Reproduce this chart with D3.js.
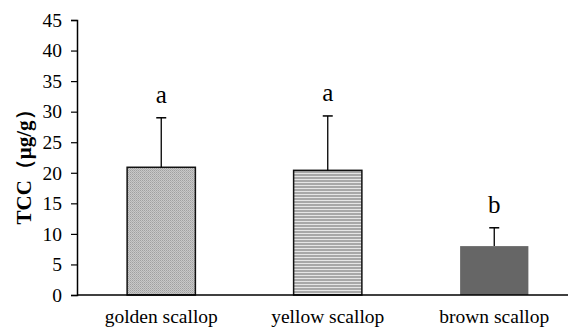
<!DOCTYPE html>
<html>
<head>
<meta charset="utf-8">
<script src="https://cdn.jsdelivr.net/npm/d3@7/dist/d3.min.js"></script>
<style>
  body { margin: 0; background: #fff; }
  text { font-family: "Liberation Serif", "Times New Roman", serif; }
</style>
</head>
<body>
<script>
// data
const categories = ["golden scallop", "yellow scallop", "brown scallop"];
const means = [20.9, 20.4, 8.0];
const errors = [8.1, 8.9, 3.0];
const letters = ["a", "a", "b"];
const yTicks = [0, 5, 10, 15, 20, 25, 30, 35, 40, 45];

const width = 568, height = 327;
const margin = { left: 77, top: 20, bottom: 32 };

const svg = d3.select("body").append("svg")
  .attr("width", width)
  .attr("height", height);

const defs = svg.append("defs");

// fine crosshatch for first bar
const p1 = defs.append("pattern")
  .attr("id", "hatch1")
  .attr("patternUnits", "userSpaceOnUse")
  .attr("width", 2).attr("height", 2);
p1.append("rect").attr("width", 2).attr("height", 2).attr("fill", "#c8c8c8");
p1.append("rect").attr("width", 1).attr("height", 1).attr("fill", "#a0a0a0");
p1.append("rect").attr("x", 1).attr("y", 1).attr("width", 1).attr("height", 1).attr("fill", "#b0b0b0");

// horizontal lines for second bar
const p2 = defs.append("pattern")
  .attr("id", "hatch2")
  .attr("patternUnits", "userSpaceOnUse")
  .attr("width", 4).attr("height", 3);
p2.append("rect").attr("width", 4).attr("height", 3).attr("fill", "#e6e6e6");
p2.append("rect").attr("width", 4).attr("height", 2).attr("fill", "#a8a8a8");

const fills = ["url(#hatch1)", "url(#hatch2)", "#666666"];
const strokes = ["#111", "#111", "none"];

const y = d3.scaleLinear()
  .domain([0, 45])
  .range([height - margin.bottom, margin.top]);

const x = d3.scaleBand()
  .domain(categories)
  .range([78, 577.5])
  .paddingInner(0.59)
  .paddingOuter(0.295);

// y axis
const yAxis = d3.axisLeft(y).tickValues(yTicks).tickSize(6).tickPadding(9);
const gy = svg.append("g")
  .attr("transform", "translate(" + margin.left + ",0)")
  .call(yAxis);
gy.select(".domain").attr("stroke", "#000").attr("stroke-width", 1.5);
gy.selectAll(".tick line").attr("stroke", "#000").attr("stroke-width", 1.2);
gy.selectAll(".tick text")
  .attr("font-size", 19.5)
  .attr("fill", "#000")
  .style("font-family", "Liberation Serif, serif");

// bars
const chart = svg.append("g");
chart.selectAll("rect.bar")
  .data(categories)
  .enter()
  .append("rect")
  .attr("class", "bar")
  .attr("x", d => x(d))
  .attr("width", x.bandwidth())
  .attr("y", (d, i) => y(means[i]))
  .attr("height", (d, i) => y(0) - y(means[i]))
  .attr("fill", (d, i) => fills[i])
  .attr("stroke", (d, i) => strokes[i])
  .attr("stroke-width", 1.5);

// error bars (upper only)
const capW = 10;
const err = chart.selectAll("g.err")
  .data(categories)
  .enter()
  .append("g")
  .attr("class", "err");
err.append("line")
  .attr("x1", d => x(d) + x.bandwidth() / 2)
  .attr("x2", d => x(d) + x.bandwidth() / 2)
  .attr("y1", (d, i) => y(means[i]))
  .attr("y2", (d, i) => y(means[i] + errors[i]))
  .attr("stroke", "#000")
  .attr("stroke-width", 1.3);
err.append("line")
  .attr("x1", d => x(d) + x.bandwidth() / 2 - capW / 2)
  .attr("x2", d => x(d) + x.bandwidth() / 2 + capW / 2)
  .attr("y1", (d, i) => y(means[i] + errors[i]))
  .attr("y2", (d, i) => y(means[i] + errors[i]))
  .attr("stroke", "#000")
  .attr("stroke-width", 1.5);

// significance letters
chart.selectAll("text.letter")
  .data(categories)
  .enter()
  .append("text")
  .attr("class", "letter")
  .attr("x", d => x(d) + x.bandwidth() / 2)
  .attr("y", (d, i) => y(means[i] + errors[i]) - 14.5)
  .attr("text-anchor", "middle")
  .attr("font-size", 25)
  .text((d, i) => letters[i]);

// x axis line
const xAxis = d3.axisBottom(x).tickSize(0).tickPadding(14);
const gx = svg.append("g")
  .attr("transform", "translate(0," + y(0) + ")")
  .call(xAxis);
gx.select(".domain")
  .attr("d", "M" + margin.left + ",0H" + width)
  .attr("stroke", "#000").attr("stroke-width", 1.5);
gx.selectAll(".tick text")
  .attr("font-size", 19.5)
  .attr("fill", "#000")
  .style("font-family", "Liberation Serif, serif");

// y title
svg.append("text")
  .attr("transform", "translate(31,162) rotate(-90)")
  .attr("text-anchor", "middle")
  .attr("font-size", 21)
  .attr("font-weight", "bold")
  .text("TCC（μg/g）");
</script>
</body>
</html>
